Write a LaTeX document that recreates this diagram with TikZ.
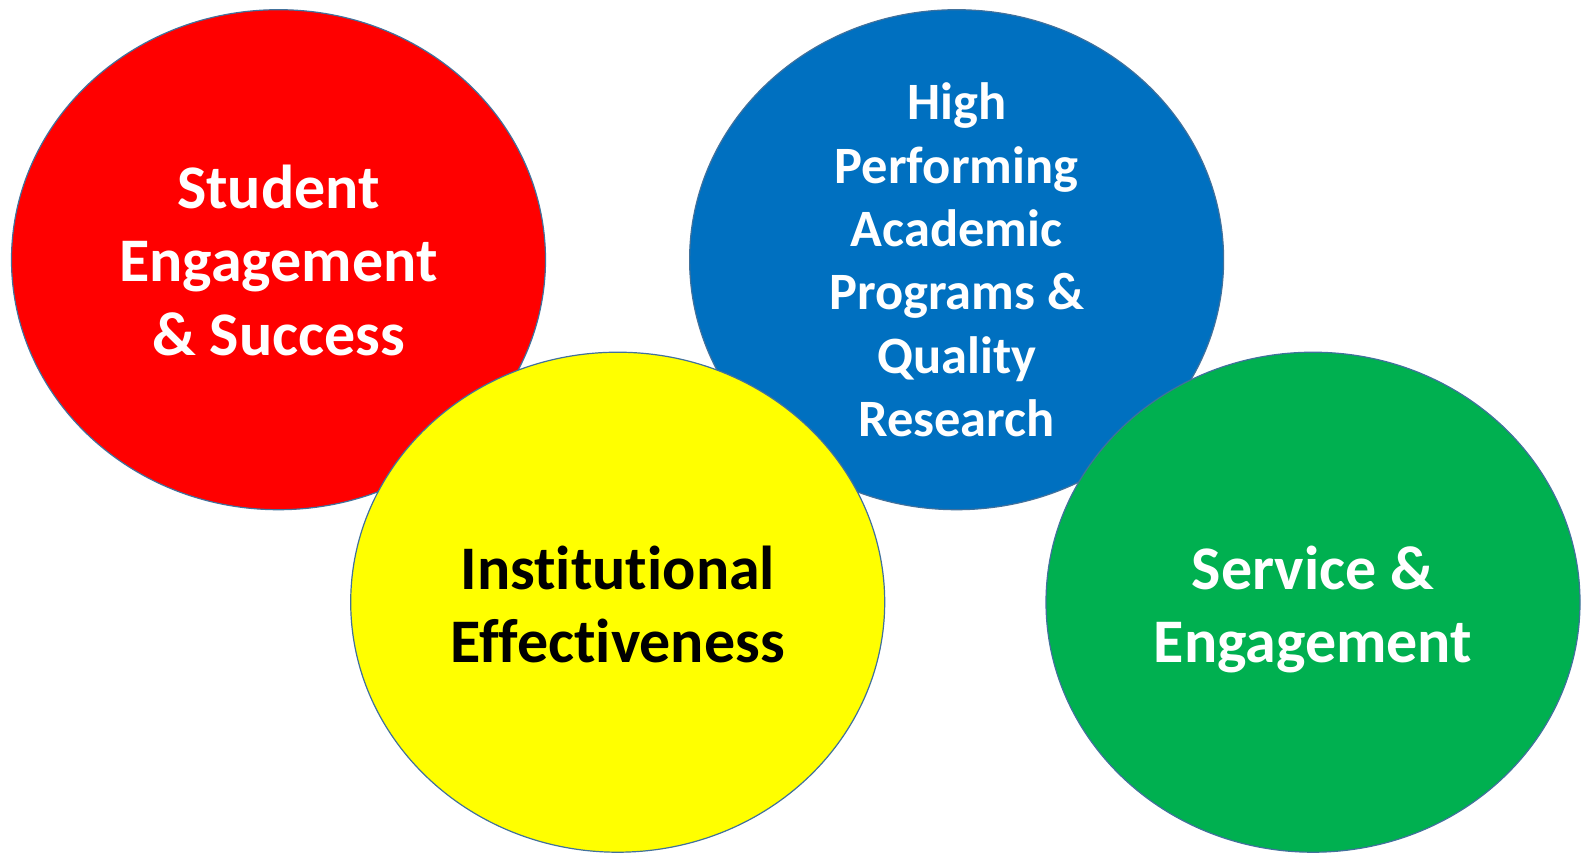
\documentclass[tikz,border=0pt]{standalone}
\usepackage{fontspec}
\setmainfont[Ligatures=CommonOff]{Carlito}
\usetikzlibrary{shapes.geometric}
\definecolor{cred}{HTML}{FF0000}
\definecolor{cblue}{HTML}{0070C0}
\definecolor{cyellow}{HTML}{FFFF00}
\definecolor{cgreen}{HTML}{00B050}
\definecolor{cedge}{HTML}{41719C}
\tikzset{
  bubble/.style={ellipse, draw=cedge, line width=1.2pt, inner sep=0pt,
    minimum width=534pt, minimum height=500pt},
  biglbl/.style={align=center, text depth=0pt, font=\bfseries\fontsize{62}{73.2}\selectfont},
  smalllbl/.style={align=center, text depth=0pt, font=\bfseries\fontsize{52.5}{63.3}\selectfont},
}
\begin{document}
\begin{tikzpicture}[x=1pt,y=-1pt]
\useasboundingbox (0,0) rectangle (1581,852);
\node[bubble, fill=cred] (red) at (278.5,259.7) {};
\node[bubble, fill=cblue] (blue) at (956.6,259.7) {};
\node[bubble, fill=cyellow] (yellow) at (617.7,602.2) {};
\node[bubble, fill=cgreen] (green) at (1313,602.2) {};
\node[biglbl, text=white] (redtxt) at ([yshift=-0.5pt]red.center) {Student\\Engagement\\\& Success};
\node[smalllbl, text=white] (bluetxt) at (blue.center) {High\\Performing\\Academic\\Programs \&\\Quality\\Research};
\node[biglbl, text=black] (yellowtxt) at ([yshift=-2pt]yellow.center) {Institutional\\Effectiveness};
\node[biglbl, text=white] (greentxt) at ([yshift=-2pt]green.center) {Service \&\\Engagement};
\end{tikzpicture}
\end{document}
